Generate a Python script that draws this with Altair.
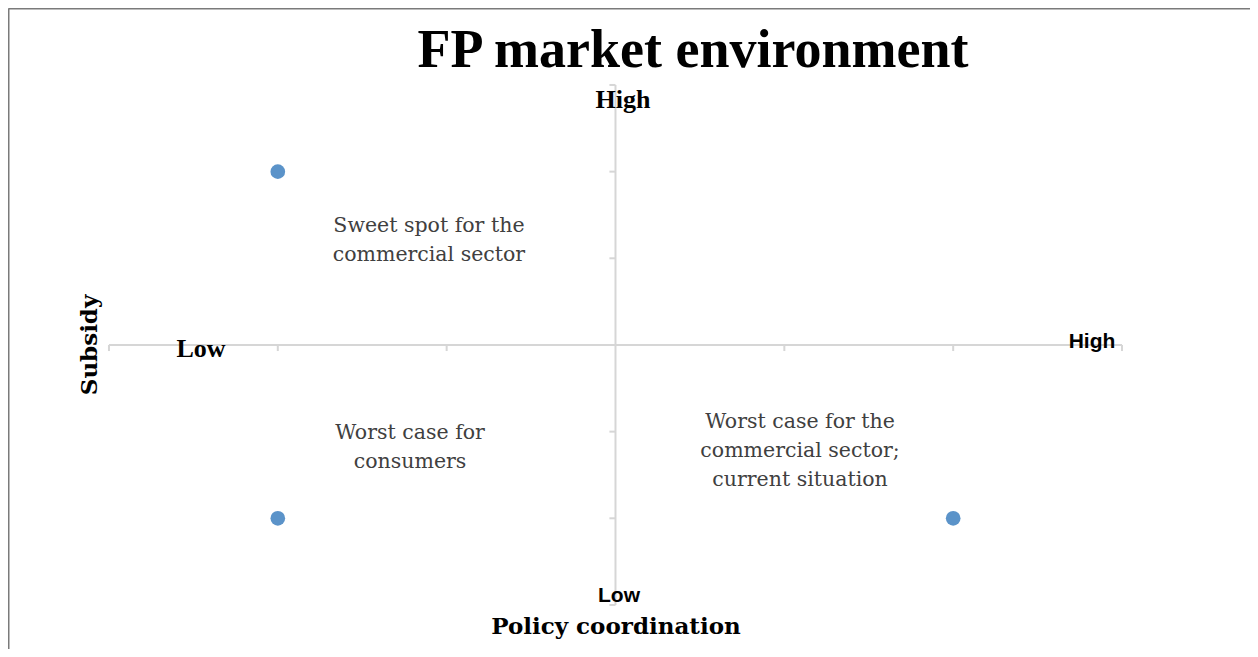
import altair as alt
import pandas as pd

# data
pt_x = [-2, -2, 2]
pt_y = [2, -2, -2]

tick_vals = [-3, -2, -1, 1, 2, 3]

notes = [
    "Sweet spot for the\ncommercial sector",
    "Worst case for\nconsumers",
    "Worst case for the\ncommercial sector;\ncurrent situation",
]
note_x = [-1.105, -1.217, 1.093]
note_y = [1.373, -1.015, -0.888]

serif_labels = ["High", "Low"]
serif_lab_x = [0.044, -2.455]
serif_lab_y = [2.827, -0.046]

sans_labels = ["High", "Low"]
sans_lab_x = [2.822, 0.021]
sans_lab_y = [0.035, -2.896]

title_text = "FP market environment"
xtitle = "Policy coordination"
ytitle = "Subsidy"

XD = [-3.598, 3.758]
YD = [-3.508, 3.888]

xs = alt.Scale(domain=XD, nice=False, zero=False)
ys = alt.Scale(domain=YD, nice=False, zero=False)

frame_x = alt.Axis(orient="top", domain=True, domainColor="#7a7a7a", domainWidth=2,
                   ticks=False, labels=False, grid=False, title=None)
frame_y = alt.Axis(orient="left", domain=True, domainColor="#7a7a7a", domainWidth=2,
                   ticks=False, labels=False, grid=False, title=None)

axis_color = "#d6d6d6"

# axis lines
hline = alt.Chart(pd.DataFrame({"x": [-3], "x2": [3], "y": [0]})).mark_rule(
    color=axis_color, strokeWidth=2).encode(
    x=alt.X("x:Q", scale=xs, axis=frame_x), x2="x2:Q",
    y=alt.Y("y:Q", scale=ys, axis=frame_y))
vline = alt.Chart(pd.DataFrame({"x": [0], "y": [-3], "y2": [3]})).mark_rule(
    color=axis_color, strokeWidth=2).encode(
    x=alt.X("x:Q", scale=xs), y=alt.Y("y:Q", scale=ys), y2="y2:Q")

# ticks
xt = pd.DataFrame({"x": tick_vals, "y": [0] * 6, "y2": [-0.07] * 6})
xticks = alt.Chart(xt).mark_rule(color=axis_color, strokeWidth=2).encode(
    x=alt.X("x:Q", scale=xs), y=alt.Y("y:Q", scale=ys), y2="y2:Q")
yt = pd.DataFrame({"y": tick_vals, "x": [0] * 6, "x2": [-0.036] * 6})
yticks = alt.Chart(yt).mark_rule(color=axis_color, strokeWidth=2).encode(
    y=alt.Y("y:Q", scale=ys), x=alt.X("x:Q", scale=xs), x2="x2:Q")

# points
pts = alt.Chart(pd.DataFrame({"x": pt_x, "y": pt_y})).mark_circle(
    size=215, color="#5b93c9", opacity=1).encode(
    x=alt.X("x:Q", scale=xs), y=alt.Y("y:Q", scale=ys))

# annotations
ann = alt.Chart(pd.DataFrame({"t": notes, "x": note_x, "y": note_y})).mark_text(
    font="DejaVu Serif", fontSize=20.5, color="#404040", lineBreak="\n",
    lineHeight=29, align="center", baseline="middle").encode(
    x=alt.X("x:Q", scale=xs), y=alt.Y("y:Q", scale=ys), text="t:N")

lab_serif = alt.Chart(pd.DataFrame({"t": serif_labels, "x": serif_lab_x, "y": serif_lab_y})).mark_text(
    font="Liberation Serif", fontSize=26, fontWeight="bold", color="#000000",
    align="center", baseline="middle").encode(
    x=alt.X("x:Q", scale=xs), y=alt.Y("y:Q", scale=ys), text="t:N")

lab_sans = alt.Chart(pd.DataFrame({"t": sans_labels, "x": sans_lab_x, "y": sans_lab_y})).mark_text(
    font="Liberation Sans", fontSize=21, fontWeight="bold", color="#000000",
    align="center", baseline="middle").encode(
    x=alt.X("x:Q", scale=xs), y=alt.Y("y:Q", scale=ys), text="t:N")

title = alt.Chart(pd.DataFrame({"t": [title_text], "x": [0.459], "y": [3.39]})).mark_text(
    font="Liberation Serif", fontSize=54, fontWeight="bold", color="#000000",
    align="center", baseline="middle").encode(
    x=alt.X("x:Q", scale=xs), y=alt.Y("y:Q", scale=ys), text="t:N")

xtl = alt.Chart(pd.DataFrame({"t": [xtitle], "x": [0.003], "y": [-3.254]})).mark_text(
    font="DejaVu Serif", fontSize=23, fontWeight="bold", color="#000000",
    align="center", baseline="middle").encode(
    x=alt.X("x:Q", scale=xs), y=alt.Y("y:Q", scale=ys), text="t:N")

ytl = alt.Chart(pd.DataFrame({"t": [ytitle], "x": [-3.113], "y": [0.0]})).mark_text(
    font="DejaVu Serif", fontSize=23, fontWeight="bold", color="#000000",
    align="center", baseline="middle", angle=270).encode(
    x=alt.X("x:Q", scale=xs), y=alt.Y("y:Q", scale=ys), text="t:N")

chart = alt.layer(hline, vline, xticks, yticks, pts, ann, lab_serif, lab_sans,
                  title, xtl, ytl).properties(
    width=1242, height=641,
    autosize=alt.AutoSizeParams(type="none"),
    padding=0,
).configure_view(stroke=None).configure(background="white")

chart.save("out.html", embed_options={"renderer": "svg", "actions": False})
